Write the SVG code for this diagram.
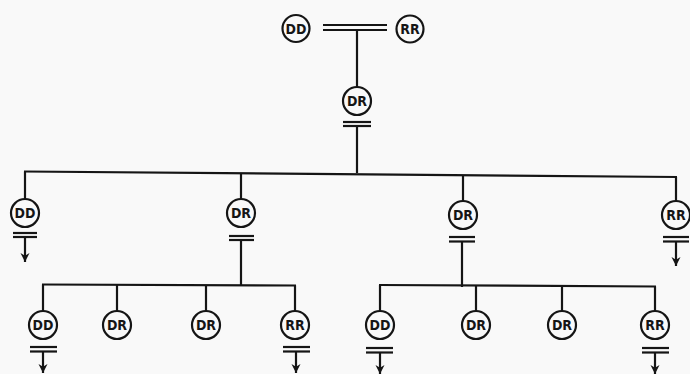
<svg xmlns="http://www.w3.org/2000/svg" width="690" height="374" viewBox="0 0 690 374">
<style>
.bg{fill:#f9f9f9}
.n circle{fill:#f9f9f9;stroke:#151515;stroke-width:2.2}
.n text{font-family:"DejaVu Sans Condensed","Liberation Sans",sans-serif;font-weight:bold;font-size:14px;fill:#151515;text-anchor:middle;dominant-baseline:central}
.c line,.c path{stroke:#151515;stroke-width:2.2;fill:none}
.a{marker-end:url(#arr)}
</style>
<defs>
<marker id="arr" viewBox="0 0 10 10" refX="10" refY="5" markerWidth="9" markerHeight="11" markerUnits="userSpaceOnUse" orient="auto">
<path d="M0,0 L10,5 L0,10 L3,5 z" fill="#151515"/>
</marker>
</defs>
<rect class="bg" x="0" y="0" width="690" height="374"/>
<g id="connectors" class="c">
<line x1="323" y1="25" x2="387" y2="25"/>
<line x1="323" y1="30" x2="387" y2="30"/>
<line x1="357" y1="30" x2="357" y2="87"/>
<line x1="343" y1="122" x2="371" y2="122"/>
<line x1="343" y1="126" x2="371" y2="126"/>
<line x1="357" y1="126" x2="357" y2="173"/>
<line x1="24" y1="171.5" x2="677" y2="177"/>
<line x1="25" y1="171.5" x2="25" y2="199"/>
<line x1="241" y1="173.5" x2="241" y2="199"/>
<line x1="463" y1="175.5" x2="463" y2="201"/>
<line x1="676" y1="177" x2="676" y2="201"/>
<line x1="13" y1="233" x2="37" y2="233"/>
<line x1="13" y1="237" x2="37" y2="237"/>
<line class="a" x1="25" y1="237" x2="25" y2="262"/>
<line x1="229" y1="236" x2="254" y2="236"/>
<line x1="229" y1="240" x2="254" y2="240"/>
<line x1="241" y1="240" x2="241" y2="285"/>
<line x1="449" y1="237" x2="475" y2="237"/>
<line x1="449" y1="241.5" x2="475" y2="241.5"/>
<line x1="462" y1="241.5" x2="462" y2="287"/>
<line x1="663" y1="237" x2="689" y2="237"/>
<line x1="663" y1="241.5" x2="689" y2="241.5"/>
<line class="a" x1="676" y1="241.5" x2="676" y2="266"/>
<line x1="42" y1="284.5" x2="296" y2="285.5"/>
<line x1="43" y1="284.5" x2="43" y2="311"/>
<line x1="117" y1="285" x2="117" y2="311"/>
<line x1="206" y1="285" x2="206" y2="311"/>
<line x1="295" y1="285.5" x2="295" y2="311"/>
<line x1="30" y1="347" x2="57" y2="347"/>
<line x1="30" y1="351.5" x2="57" y2="351.5"/>
<line class="a" x1="43" y1="351.5" x2="43" y2="373"/>
<line x1="283" y1="347" x2="310" y2="347"/>
<line x1="283" y1="351.5" x2="310" y2="351.5"/>
<line class="a" x1="296" y1="351.5" x2="296" y2="373"/>
<line x1="379" y1="285" x2="656" y2="286.5"/>
<line x1="380" y1="285" x2="380" y2="311"/>
<line x1="476" y1="285.5" x2="476" y2="311"/>
<line x1="562" y1="286" x2="562" y2="311"/>
<line x1="655" y1="286.5" x2="655" y2="311"/>
<line x1="366" y1="348" x2="393" y2="348"/>
<line x1="366" y1="352.5" x2="393" y2="352.5"/>
<line class="a" x1="380" y1="352.5" x2="380" y2="374"/>
<line x1="642" y1="348" x2="669" y2="348"/>
<line x1="642" y1="352.5" x2="669" y2="352.5"/>
<line class="a" x1="655" y1="352.5" x2="655" y2="374"/>
</g>
<g id="n_top_dd" class="n"><circle cx="296" cy="28.5" r="13.5"/><text x="296" y="28.5">DD</text></g>
<g id="n_top_rr" class="n"><circle cx="410" cy="29" r="13.5"/><text x="410" y="29">RR</text></g>
<g id="n_f1_dr" class="n"><circle cx="357" cy="101" r="14"/><text x="357" y="101">DR</text></g>
<g id="n_f2_dd" class="n"><circle cx="25" cy="213" r="14"/><text x="25" y="213">DD</text></g>
<g id="n_f2_dr1" class="n"><circle cx="241" cy="213" r="14"/><text x="241" y="213">DR</text></g>
<g id="n_f2_dr2" class="n"><circle cx="463" cy="215" r="14"/><text x="463" y="215">DR</text></g>
<g id="n_f2_rr" class="n"><circle cx="676" cy="215" r="14"/><text x="676" y="215">RR</text></g>
<g id="n_f3a_dd" class="n"><circle cx="43" cy="325" r="14"/><text x="43" y="325">DD</text></g>
<g id="n_f3a_dr1" class="n"><circle cx="117" cy="325" r="14"/><text x="117" y="325">DR</text></g>
<g id="n_f3a_dr2" class="n"><circle cx="206" cy="325" r="14"/><text x="206" y="325">DR</text></g>
<g id="n_f3a_rr" class="n"><circle cx="295" cy="325" r="14"/><text x="295" y="325">RR</text></g>
<g id="n_f3b_dd" class="n"><circle cx="380" cy="325" r="14"/><text x="380" y="325">DD</text></g>
<g id="n_f3b_dr1" class="n"><circle cx="476" cy="325" r="14"/><text x="476" y="325">DR</text></g>
<g id="n_f3b_dr2" class="n"><circle cx="562" cy="325" r="14"/><text x="562" y="325">DR</text></g>
<g id="n_f3b_rr" class="n"><circle cx="655" cy="325" r="14"/><text x="655" y="325">RR</text></g>
</svg>
